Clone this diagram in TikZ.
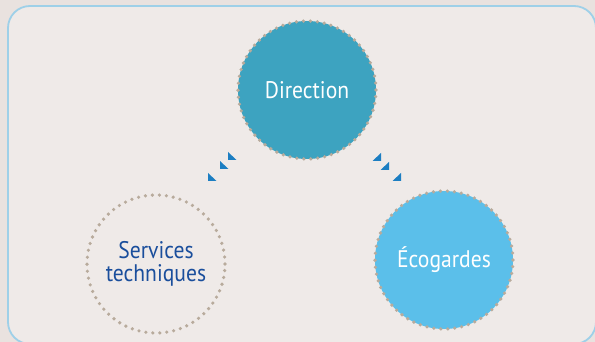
\documentclass[tikz,border=0pt]{standalone}
\usepackage{fontspec}
\setmainfont[FakeStretch=0.9]{PT Sans}
\definecolor{pageback}{HTML}{E9E2DF}
\definecolor{boxback}{HTML}{EFEAE8}
\definecolor{boxline}{HTML}{9ED0E8}
\definecolor{dotgray}{HTML}{B8AB9C}
\definecolor{dirblue}{HTML}{3DA3C0}
\definecolor{ecoblue}{HTML}{5BBFEA}
\definecolor{servblue}{HTML}{1A4E9C}
\definecolor{tipblue}{HTML}{1C7EC2}
\tikzset{
  role/.style={circle,minimum size=138pt,inner sep=0pt,align=center,
    font=\fontsize{24}{23}\selectfont,
    draw=dotgray,line width=3.6pt,line cap=round,dash pattern=on 0pt off 7pt},
  tipleft/.style={fill=tipblue},
}
\begin{document}
\begin{tikzpicture}[x=1pt,y=-1pt]
  \useasboundingbox (0,0) rectangle (595,342);
  \fill[pageback] (0,0) rectangle (595,342);
  \draw[boxline,fill=boxback,line width=1.8pt,rounded corners=22pt] (8,6) rectangle (596,344);
  % roles
  \node[role,fill=dirblue,text=white] (dir) at (307,90) {Direction};
  \node[role,text=servblue] (serv) at (156,264) {Services\\techniques};
  \node[role,fill=ecoblue,text=white] (eco) at (444,260) {Écogardes};
  % small arrow tips
  \foreach \x/\y in {228/152,220/161,208/173}
    \fill[tipleft] (\x,\y) -- (\x,\y+8) -- (\x+8.5,\y+8) -- cycle;
  \foreach \x/\y in {381/153,389/162,401/173}
    \fill[tipleft] (\x,\y) -- (\x,\y+8) -- (\x-8.5,\y+8) -- cycle;
\end{tikzpicture}
\end{document}
